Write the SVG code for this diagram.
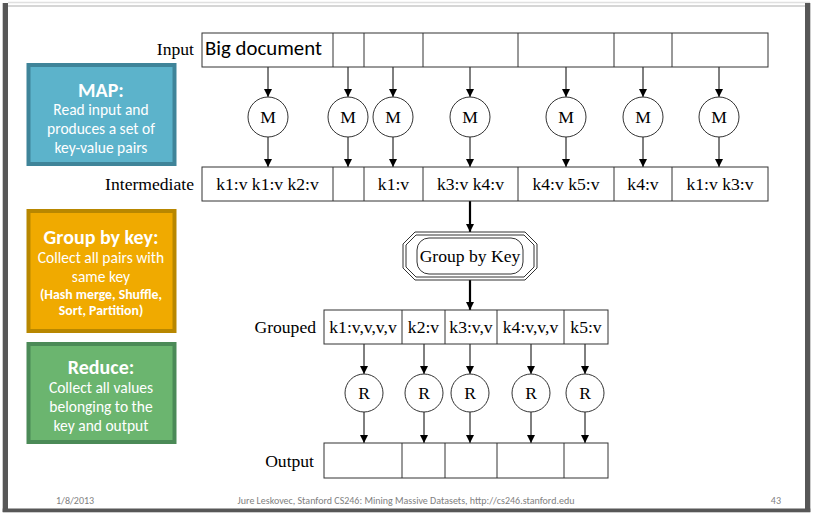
<svg xmlns="http://www.w3.org/2000/svg" width="813" height="515" viewBox="0 0 813 515">
<style>
.cell{fill:#fff;stroke:#333;stroke-width:1}
.div{stroke:#333;stroke-width:1}
.t{font-family:"Liberation Serif","Times New Roman",serif;font-size:17.6px;fill:#000;text-anchor:middle}
.lbl{font-family:"Liberation Serif","Times New Roman",serif;font-size:17.6px;fill:#000;text-anchor:end}
.circ{fill:#fff;stroke:#333;stroke-width:1}
.edge{stroke:#000;stroke-width:1;fill:none;marker-end:url(#ah)}
.thick{stroke:#000;stroke-width:2.2;fill:none;marker-end:url(#ah)}
.ct{font-family:Carlito,Lato,"Open Sans",sans-serif;fill:#fff;text-anchor:middle}
.h{font-size:20px;font-weight:bold}
.b{font-size:15.5px}
.s{font-size:13.8px;font-weight:bold}
.foot{font-family:Carlito,Lato,"Open Sans",sans-serif;font-size:10px;fill:#7f7f7f}
</style>
<defs>
<marker id="ah" viewBox="0 0 10 10" refX="10" refY="5" markerWidth="8" markerHeight="10" markerUnits="userSpaceOnUse" orient="auto">
<path d="M0,0 L10,5 L0,10 z" fill="#000"/>
</marker>
</defs>
<rect x="0" y="0" width="813" height="515" fill="#fff"/>
<!-- frame -->
<g id="frame">
<line x1="8" y1="2.5" x2="810" y2="2.5" stroke="#e0e0e0" stroke-width="1.5"/>
<line x1="8" y1="6" x2="805" y2="6" stroke="#c8c8c8" stroke-width="1.5"/>
<rect x="2.7" y="3" width="5.3" height="509" fill="#575757"/>
<rect x="805" y="3" width="5.3" height="509" fill="#575757"/>
<rect x="2.7" y="508.5" width="807.6" height="3.8" fill="#575757"/>
</g>

<!-- side boxes -->
<g id="map-box">
<rect x="28.5" y="65" width="146" height="99" fill="#5cb3cb" stroke="#3f8499" stroke-width="4"/>
<text class="ct h" x="101" y="97">MAP:</text>
<text class="ct b" x="101" y="115">Read input and</text>
<text class="ct b" x="101" y="134">produces a set of</text>
<text class="ct b" x="101" y="153">key-value pairs</text>
</g>
<g id="group-box">
<rect x="28.5" y="211" width="146" height="120" fill="#f0aa00" stroke="#b88700" stroke-width="4"/>
<text class="ct h" x="101" y="244">Group by key:</text>
<text class="ct b" x="101" y="263">Collect all pairs with</text>
<text class="ct b" x="101" y="282">same key</text>
<text class="ct s" x="101" y="299">(Hash merge, Shuffle,</text>
<text class="ct s" x="101" y="315">Sort, Partition)</text>
</g>
<g id="reduce-box">
<rect x="28.5" y="344" width="146" height="98" fill="#6bb56f" stroke="#4b8a57" stroke-width="4"/>
<text class="ct h" x="101" y="374">Reduce:</text>
<text class="ct b" x="101" y="393">Collect all values</text>
<text class="ct b" x="101" y="412">belonging to the</text>
<text class="ct b" x="101" y="431">key and output</text>
</g>

<!-- connectors -->
<g id="connectors">
<line class="edge" x1="268" y1="67" x2="268" y2="97"/>
<line class="edge" x1="348" y1="67" x2="348" y2="97"/>
<line class="edge" x1="393" y1="67" x2="393" y2="97"/>
<line class="edge" x1="470" y1="67" x2="470" y2="97"/>
<line class="edge" x1="566" y1="67" x2="566" y2="97"/>
<line class="edge" x1="643" y1="67" x2="643" y2="97"/>
<line class="edge" x1="719" y1="67" x2="719" y2="97"/>
<line class="edge" x1="268" y1="137" x2="268" y2="167"/>
<line class="edge" x1="348" y1="137" x2="348" y2="167"/>
<line class="edge" x1="393" y1="137" x2="393" y2="167"/>
<line class="edge" x1="470" y1="137" x2="470" y2="167"/>
<line class="edge" x1="566" y1="137" x2="566" y2="167"/>
<line class="edge" x1="643" y1="137" x2="643" y2="167"/>
<line class="edge" x1="719" y1="137" x2="719" y2="167"/>
<line class="thick" x1="470" y1="201" x2="470" y2="232"/>
<line class="thick" x1="470" y1="280" x2="470" y2="310"/>
<line class="edge" x1="364" y1="344" x2="364" y2="374"/>
<line class="edge" x1="424" y1="344" x2="424" y2="374"/>
<line class="edge" x1="470" y1="344" x2="470" y2="374"/>
<line class="edge" x1="531" y1="344" x2="531" y2="374"/>
<line class="edge" x1="585" y1="344" x2="585" y2="374"/>
<line class="edge" x1="364" y1="412" x2="364" y2="443"/>
<line class="edge" x1="424" y1="412" x2="424" y2="443"/>
<line class="edge" x1="470" y1="412" x2="470" y2="443"/>
<line class="edge" x1="531" y1="412" x2="531" y2="443"/>
<line class="edge" x1="585" y1="412" x2="585" y2="443"/>
</g>

<!-- input row -->
<g id="input">
<text class="lbl" x="194" y="55">Input</text>
<rect class="cell" x="202" y="33" width="566" height="34"/>
<line class="div" x1="333" y1="33" x2="333" y2="67"/>
<line class="div" x1="364" y1="33" x2="364" y2="67"/>
<line class="div" x1="423" y1="33" x2="423" y2="67"/>
<line class="div" x1="518" y1="33" x2="518" y2="67"/>
<line class="div" x1="614" y1="33" x2="614" y2="67"/>
<line class="div" x1="672" y1="33" x2="672" y2="67"/>
<text x="205" y="55" font-family="Carlito,Lato,'Open Sans',sans-serif" font-size="20.8px" fill="#000">Big document</text>
</g>

<!-- mappers -->
<g id="m1"><circle class="circ" cx="268" cy="117" r="20"/><text class="t" x="268" y="123">M</text></g>
<g id="m2"><circle class="circ" cx="348" cy="117" r="20"/><text class="t" x="348" y="123">M</text></g>
<g id="m3"><circle class="circ" cx="393" cy="117" r="20"/><text class="t" x="393" y="123">M</text></g>
<g id="m4"><circle class="circ" cx="470" cy="117" r="20"/><text class="t" x="470" y="123">M</text></g>
<g id="m5"><circle class="circ" cx="566" cy="117" r="20"/><text class="t" x="566" y="123">M</text></g>
<g id="m6"><circle class="circ" cx="643" cy="117" r="20"/><text class="t" x="643" y="123">M</text></g>
<g id="m7"><circle class="circ" cx="719" cy="117" r="20"/><text class="t" x="719" y="123">M</text></g>

<!-- intermediate row -->
<g id="intermediate">
<text class="lbl" x="194" y="190">Intermediate</text>
<rect class="cell" x="202" y="167" width="566" height="34"/>
<line class="div" x1="333" y1="167" x2="333" y2="201"/>
<line class="div" x1="364" y1="167" x2="364" y2="201"/>
<line class="div" x1="423" y1="167" x2="423" y2="201"/>
<line class="div" x1="518" y1="167" x2="518" y2="201"/>
<line class="div" x1="614" y1="167" x2="614" y2="201"/>
<line class="div" x1="672" y1="167" x2="672" y2="201"/>
<text class="t" x="267.5" y="190">k1:v k1:v k2:v</text>
<text class="t" x="393.5" y="190">k1:v</text>
<text class="t" x="470.5" y="190">k3:v k4:v</text>
<text class="t" x="566" y="190">k4:v k5:v</text>
<text class="t" x="643" y="190">k4:v</text>
<text class="t" x="720" y="190">k1:v k3:v</text>
</g>

<!-- group by key -->
<g id="groupbykey">
<path d="M415,232 H525 L537,244 V268 L525,280 H415 L403,268 V244 Z" fill="#fff" stroke="#333" stroke-width="1"/>
<path d="M416,235 H524 L534,245 V267 L524,277 H416 L406,267 V245 Z" fill="none" stroke="#333" stroke-width="1"/>
<rect x="417" y="238" width="106" height="36" rx="12" fill="none" stroke="#333" stroke-width="1"/>
<text class="t" x="470" y="262">Group by Key</text>
</g>

<!-- grouped row -->
<g id="grouped">
<text class="lbl" x="316" y="333">Grouped</text>
<rect class="cell" x="324" y="310" width="284" height="34"/>
<line class="div" x1="402" y1="310" x2="402" y2="344"/>
<line class="div" x1="445" y1="310" x2="445" y2="344"/>
<line class="div" x1="497" y1="310" x2="497" y2="344"/>
<line class="div" x1="564" y1="310" x2="564" y2="344"/>
<text class="t" x="363" y="333">k1:v,v,v,v</text>
<text class="t" x="423.5" y="333">k2:v</text>
<text class="t" x="471" y="333">k3:v,v</text>
<text class="t" x="530.5" y="333">k4:v,v,v</text>
<text class="t" x="586" y="333">k5:v</text>
</g>

<!-- reducers -->
<g id="r1"><circle class="circ" cx="364" cy="393" r="19"/><text class="t" x="364" y="399">R</text></g>
<g id="r2"><circle class="circ" cx="424" cy="393" r="19"/><text class="t" x="424" y="399">R</text></g>
<g id="r3"><circle class="circ" cx="470" cy="393" r="19"/><text class="t" x="470" y="399">R</text></g>
<g id="r4"><circle class="circ" cx="531" cy="393" r="19"/><text class="t" x="531" y="399">R</text></g>
<g id="r5"><circle class="circ" cx="585" cy="393" r="19"/><text class="t" x="585" y="399">R</text></g>

<!-- output row -->
<g id="output">
<text class="lbl" x="314" y="467">Output</text>
<rect class="cell" x="324" y="443" width="284" height="35"/>
<line class="div" x1="402" y1="443" x2="402" y2="478"/>
<line class="div" x1="445" y1="443" x2="445" y2="478"/>
<line class="div" x1="497" y1="443" x2="497" y2="478"/>
<line class="div" x1="564" y1="443" x2="564" y2="478"/>
</g>

<!-- footer -->
<g id="footer">
<text class="foot" x="56" y="504">1/8/2013</text>
<text class="foot" x="406" y="504" text-anchor="middle">Jure Leskovec, Stanford CS246: Mining Massive Datasets, http://cs246.stanford.edu</text>
<text class="foot" x="781" y="504" text-anchor="end">43</text>
</g>
</svg>
